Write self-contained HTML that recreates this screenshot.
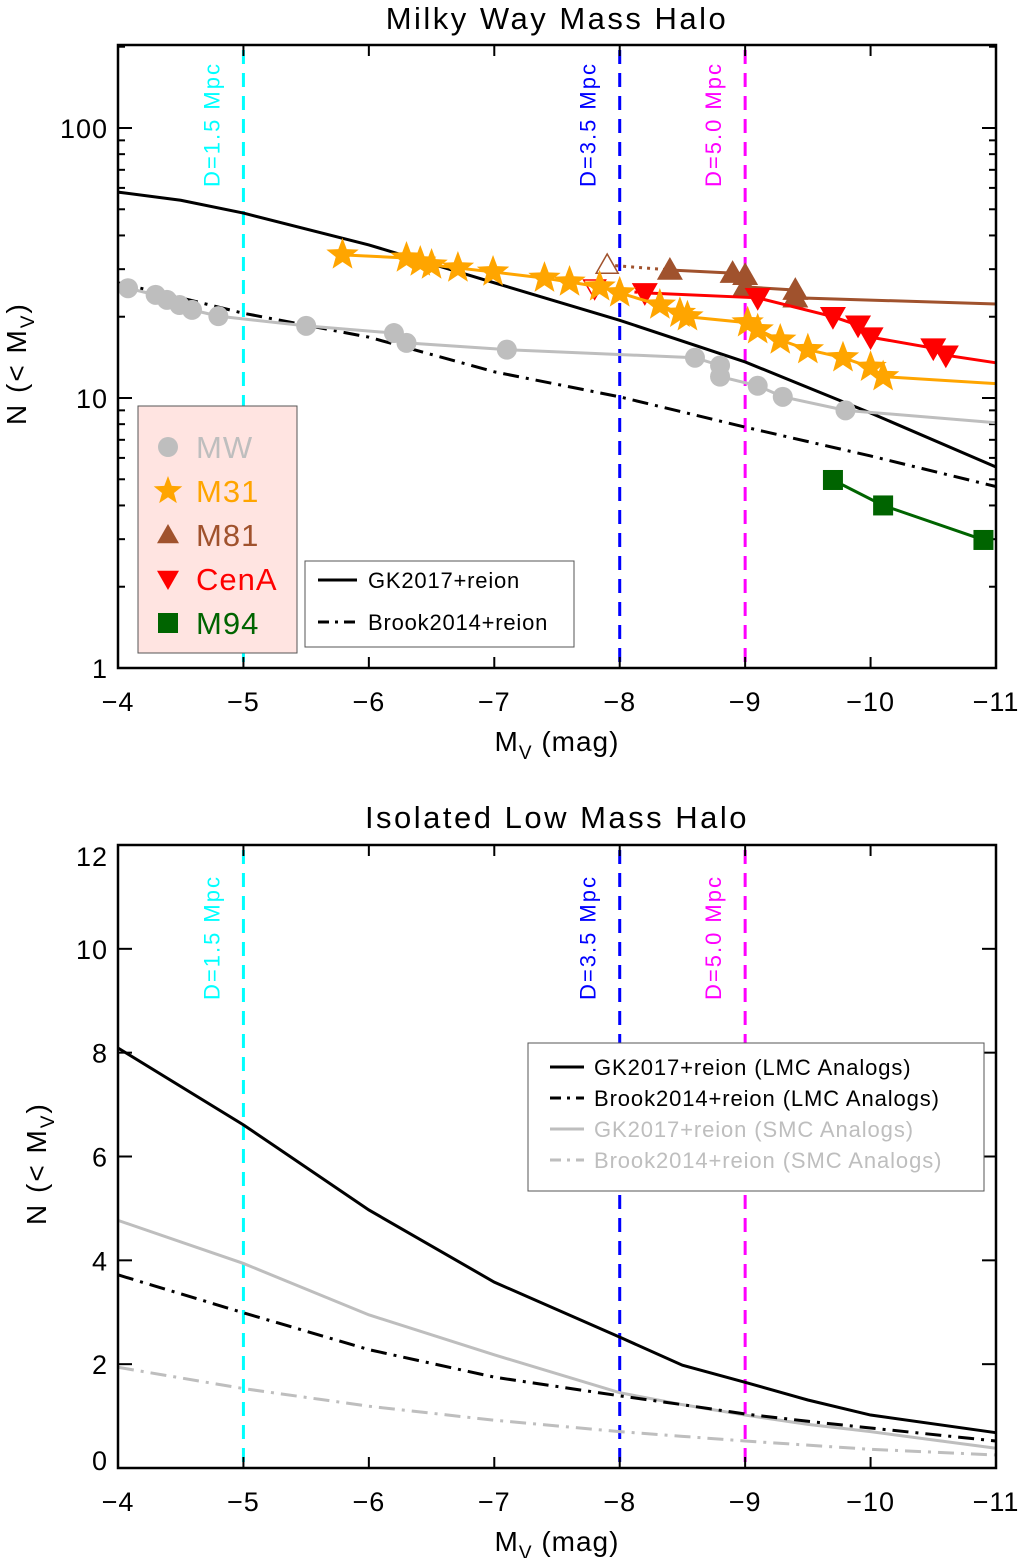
<!DOCTYPE html>
<html><head><meta charset="utf-8"><style>
body{margin:0;background:#fff;}
svg{display:block;font-family:"Liberation Sans",sans-serif;}
</style></head><body>
<svg id="chart" width="1020" height="1558" viewBox="0 0 1020 1558"></svg>
<script>
// ---------- data ----------
const mwMag=[-4.08,-4.30,-4.39,-4.49,-4.59,-4.80,-5.50,-6.20,-6.30,-7.10,-8.60,-8.80,-8.80,-9.10,-9.30,-9.80];
const mwN=[25.5,24.1,23.1,22.1,21.2,20.1,18.5,17.4,16.0,15.1,14.1,13.2,12.0,11.1,10.1,9.0];
const mwEnd=[-11,8.1];
const m31Mag=[-5.79,-6.30,-6.41,-6.50,-6.71,-6.99,-7.40,-7.60,-7.84,-8.00,-8.32,-8.48,-8.54,-9.02,-9.10,-9.28,-9.50,-9.78,-10.0,-10.1];
const m31N=[33.9,33.0,31.9,31.1,30.3,29.3,27.8,26.9,25.8,24.5,22.1,20.6,20.0,19.0,17.9,16.4,15.1,14.1,13.0,12.0];
const m31End=[-11,11.3];
const m81Open=[-7.9,31.1];
const m81Mag=[-8.4,-8.9,-9.0,-9.0,-9.4,-9.4];
const m81N=[29.8,29.0,28.5,25.8,25.1,23.5];
const m81End=[-11,22.3];
const cenOpen=[-7.8,25.5];
const cenMag=[-8.2,-9.1,-9.7,-9.9,-10.0,-10.5,-10.6];
const cenN=[24.5,23.5,20.0,18.6,16.8,15.3,14.4];
const cenEnd=[-11,13.5];
const m94Mag=[-9.7,-10.1,-10.9];
const m94N=[4.97,4.0,2.98];
const modelMag=[-4,-4.5,-5,-6,-7,-8,-9,-10,-11];
const gkTop=[57.9,54,48.4,36.9,26.7,19.4,13.6,8.8,5.55];
const brookTop=[26.7,23.5,20.6,16.8,12.5,10.1,7.8,6.1,4.7];
const lowMag=[-4,-5,-6,-7,-8,-8.5,-9,-9.5,-10,-11];
const gkLMC=[8.09,6.61,4.97,3.58,2.52,1.98,1.65,1.31,1.02,0.68];
const brookLMC=[3.72,2.99,2.28,1.75,1.39,1.22,1.04,0.90,0.77,0.52];
const gkSMC=[4.77,3.94,2.95,2.18,1.45,1.22,1.02,0.84,0.70,0.38];
const brookSMC=[1.94,1.53,1.19,0.92,0.70,0.61,0.52,0.44,0.36,0.25];
const xTicks=[-4,-5,-6,-7,-8,-9,-10,-11];
const yTicksLog=[1,10,100];
const yTicksLin=[0,2,4,6,8,10,12];
const distMag=[-5,-8,-9];
const distLab=["D=1.5 Mpc","D=3.5 Mpc","D=5.0 Mpc"];
const distCol=["#00ffff","#0000ff","#ff00ff"];

const NS="http://www.w3.org/2000/svg";
const svg=document.getElementById('chart');
function el(tag,attrs,parent,txt){const e=document.createElementNS(NS,tag);for(const k in attrs)e.setAttribute(k,attrs[k]);if(txt!==undefined)e.textContent=txt;(parent||svg).appendChild(e);return e;}
const X0=118,X1=996;
const xs=m=>X0+(-4-m)*(X1-X0)/7;
const T={top:45,bot:668,lab:142,ys:n=>668-Math.log10(n)*270};
const B={top:845,bot:1468,lab:155,ys:v=>1468-v*(623/12)};

function frame(P,name){
  const g=el('g',{},svg);
  
  el('rect',{x:X0,y:P.top,width:X1-X0,height:P.bot-P.top,fill:'none',stroke:'#000','stroke-width':2.5},g);
  xTicks.forEach(m=>{const x=xs(m);
    el('line',{x1:x,y1:P.bot,x2:x,y2:P.bot-11,stroke:'#000','stroke-width':2},g);
    el('line',{x1:x,y1:P.top,x2:x,y2:P.top+11,stroke:'#000','stroke-width':2},g);
    const t=el('text',{x:x,y:P.bot+43,'font-size':27,'text-anchor':'middle','letter-spacing':1},g,String(m).replace('-','\u2212'));
    
  });
  const xl=el('text',{x:557,y:P.bot+83,'font-size':28,'text-anchor':'middle','letter-spacing':1},g);
  xl.innerHTML='M<tspan font-size="19" dy="8">V</tspan><tspan dy="-8"> (mag)</tspan>';
  
}
function dline(pts,attrs,name){const p=el('polyline',Object.assign({points:pts.map(p=>p.join(',')).join(' '),fill:'none'},attrs));return p;}
function distLines(P,pre){
  distMag.forEach((m,i)=>{const x=xs(m);
    const l=el('line',{x1:x,y1:P.top+5,x2:x,y2:P.bot,stroke:distCol[i],'stroke-width':3,'stroke-dasharray':'14,9'});
    
    const t=el('text',{x:0,y:0,'font-size':22,'letter-spacing':2,fill:distCol[i],transform:`translate(${x-24},${P.top+P.lab}) rotate(-90)`},svg,distLab[i]);
    
  });
}

// ---------- top panel ----------
const tt=el('text',{x:557,y:29,'font-size':31,'text-anchor':'middle','letter-spacing':2.5},svg,'Milky Way Mass Halo');

for(let d=0;d<3;d++)for(let k=1;k<10;k++){const n=k*Math.pow(10,d);if(n>200)break;const y=T.ys(n);const len=k===1?14:7;
  el('line',{x1:X0,y1:y,x2:X0+len,y2:y,stroke:'#000','stroke-width':2});el('line',{x1:X1,y1:y,x2:X1-len,y2:y,stroke:'#000','stroke-width':2});}
yTicksLog.forEach(n=>{const t=el('text',{x:108,y:T.ys(n)+10,'font-size':27,'text-anchor':'end','letter-spacing':1},svg,String(n));
  });
const yl=el('text',{x:0,y:0,'font-size':28,'letter-spacing':2,transform:'translate(26,425) rotate(-90)'},svg);
yl.innerHTML='N (&lt; M<tspan font-size="19" dy="8">V</tspan><tspan dy="-8">)</tspan>';

distLines(T,'top');
dline(modelMag.map((m,i)=>[xs(m),T.ys(gkTop[i])]),{stroke:'#000','stroke-width':3},'gk2017-line');
dline(modelMag.map((m,i)=>[xs(m),T.ys(brookTop[i])]),{stroke:'#000','stroke-width':3,'stroke-dasharray':'16,7,3,7'},'brook2014-line');

function star(x,y,r,c,g){let p=[];for(let i=0;i<10;i++){const a=-Math.PI/2+i*Math.PI/5;const rr=i%2?r*0.42:r;p.push([x+rr*Math.cos(a),y+rr*Math.sin(a)]);}el('polygon',{points:p.map(q=>q.join(',')).join(' '),fill:c},g);}
function tri(x,y,r,c,down,g,open){const s=down?-1:1;el('polygon',{points:`${x},${y-s*r} ${x-r},${y+s*r*0.75} ${x+r},${y+s*r*0.75}`,fill:open?'#fff':c,stroke:c,'stroke-width':open?1.5:0},g);}
function series(name,mag,N,end,color,marker){
  const g=el('g',{});
  const pts=mag.map((m,i)=>[xs(m),T.ys(N[i])]);if(end)pts.push([xs(end[0]),T.ys(end[1])]);
  el('polyline',{points:pts.map(p=>p.join(',')).join(' '),fill:'none',stroke:color,'stroke-width':3},g);
  mag.forEach((m,i)=>{const x=xs(m),y=T.ys(N[i]);
    if(marker==='c')el('circle',{cx:x,cy:y,r:10,fill:color},g);
    else if(marker==='s')star(x,y,17,color,g);
    else if(marker==='u')tri(x,y,13,color,false,g);
    else if(marker==='d')tri(x,y,13,color,true,g);
    else el('rect',{x:x-10,y:y-10,width:20,height:20,fill:color},g);
  });return g;
}
series('mw',mwMag,mwN,mwEnd,'#bebebe','c');
const g81=series('m81',m81Mag,m81N,m81End,'#a0522d','u');
el('line',{x1:xs(m81Open[0]),y1:T.ys(m81Open[1]),x2:xs(m81Mag[0]),y2:T.ys(m81N[0]),stroke:'#a0522d','stroke-width':3,'stroke-dasharray':'3,5'},g81);
tri(xs(m81Open[0]),T.ys(m81Open[1]),11,'#a0522d',false,g81,true);
const gc=series('cena',cenMag,cenN,cenEnd,'#ff0000','d');
el('line',{x1:xs(cenOpen[0]),y1:T.ys(cenOpen[1]),x2:xs(cenMag[0]),y2:T.ys(cenN[0]),stroke:'#ff0000','stroke-width':3,'stroke-dasharray':'3,5'},gc);
tri(xs(cenOpen[0]),T.ys(cenOpen[1]),11,'#ff0000',true,gc,true);
series('m31',m31Mag,m31N,m31End,'#ffa500','s');
series('m94',m94Mag,m94N,null,'#006400','q');

const lg=el('g',{});
el('rect',{x:138,y:406,width:159,height:247,fill:'#ffe4e1',stroke:'#555','stroke-width':1},lg);
const lgItems=[['MW','#bebebe','c'],['M31','#ffa500','s'],['M81','#a0522d','u'],['CenA','#ff0000','d'],['M94','#006400','q']];
lgItems.forEach((it,i)=>{const y=447+i*44;
  if(it[2]==='c')el('circle',{cx:168,cy:y,r:10,fill:it[1]},lg);
  else if(it[2]==='s')star(168,y,15,it[1],lg);
  else if(it[2]==='u')tri(168,y,11,it[1],false,lg);
  else if(it[2]==='d')tri(168,y,11,it[1],true,lg);
  else el('rect',{x:158,y:y-10,width:20,height:20,fill:it[1]},lg);
  const t=el('text',{x:196,y:y+11,'font-size':31,fill:it[1],'letter-spacing':1},lg,it[0]);
  
});
const lm=el('g',{});
el('rect',{x:305,y:561,width:269,height:86,fill:'#fff',stroke:'#555','stroke-width':1},lm);
el('line',{x1:318,y1:580,x2:357,y2:580,stroke:'#000','stroke-width':3},lm);
el('text',{x:368,y:588,'font-size':22,'letter-spacing':0.8},lm,'GK2017+reion');
el('line',{x1:318,y1:622,x2:357,y2:622,stroke:'#000','stroke-width':3,'stroke-dasharray':'11,6,3,6'},lm);
el('text',{x:368,y:630,'font-size':22,'letter-spacing':0.8},lm,'Brook2014+reion');
frame(T,'top');

// ---------- bottom panel ----------
const bt=el('text',{x:557,y:828,'font-size':31,'text-anchor':'middle','letter-spacing':2.5},svg,'Isolated Low Mass Halo');

yTicksLin.forEach(v=>{const y=B.ys(v);
  el('line',{x1:X0,y1:y,x2:X0+14,y2:y,stroke:'#000','stroke-width':2});el('line',{x1:X1,y1:y,x2:X1-14,y2:y,stroke:'#000','stroke-width':2});
  const t=el('text',{x:108,y:Math.max(y+10,866)-(v===0?8:0),'font-size':27,'text-anchor':'end','letter-spacing':1},svg,String(v));
  });
const yl2=el('text',{x:0,y:0,'font-size':28,'letter-spacing':2,transform:'translate(46,1225) rotate(-90)'},svg);
yl2.innerHTML='N (&lt; M<tspan font-size="19" dy="8">V</tspan><tspan dy="-8">)</tspan>';

distLines(B,'bottom');
dline(lowMag.map((m,i)=>[xs(m),B.ys(gkSMC[i])]),{stroke:'#bebebe','stroke-width':3},'gk2017-smc-line');
dline(lowMag.map((m,i)=>[xs(m),B.ys(brookSMC[i])]),{stroke:'#bebebe','stroke-width':3,'stroke-dasharray':'16,7,3,7'},'brook2014-smc-line');
dline(lowMag.map((m,i)=>[xs(m),B.ys(gkLMC[i])]),{stroke:'#000','stroke-width':3},'gk2017-lmc-line');
dline(lowMag.map((m,i)=>[xs(m),B.ys(brookLMC[i])]),{stroke:'#000','stroke-width':3,'stroke-dasharray':'16,7,3,7'},'brook2014-lmc-line');
const bl=el('g',{});
el('rect',{x:528,y:1043,width:456,height:148,fill:'#fff',stroke:'#555','stroke-width':1},bl);
[['GK2017+reion (LMC Analogs)','#000',null],['Brook2014+reion (LMC Analogs)','#000','11,6,3,6'],['GK2017+reion (SMC Analogs)','#bebebe',null],['Brook2014+reion (SMC Analogs)','#bebebe','11,6,3,6']].forEach((it,i)=>{
  const y=1067+i*31;const a={x1:550,y1:y,x2:584,y2:y,stroke:it[1],'stroke-width':3};if(it[2])a['stroke-dasharray']=it[2];
  el('line',a,bl);const t=el('text',{x:594,y:y+8,'font-size':22,fill:it[1],'letter-spacing':0.9},bl,it[0]);
  });
frame(B,'bottom');
</script>
</body></html>
